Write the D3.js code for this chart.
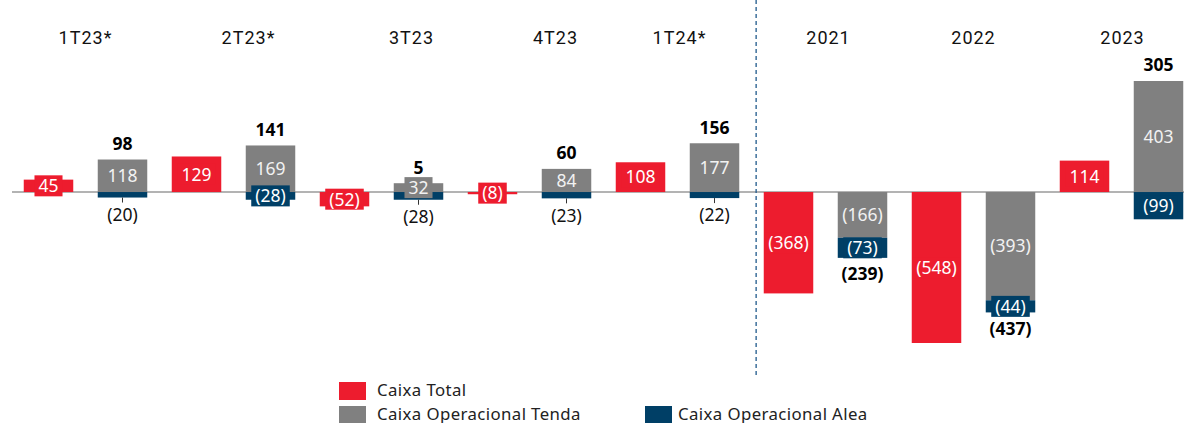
<!DOCTYPE html>
<html>
<head>
<meta charset="utf-8">
<script src="https://cdn.jsdelivr.net/npm/d3@7"></script>
<style>
  body { margin: 0; background: #fff; }
  svg { display: block; }
</style>
</head>
<body>
<svg id="chart"></svg>
<script>
// Datos del gráfico
const categorias = ["1T23*", "2T23*", "3T23", "4T23", "1T24*", "2021", "2022", "2023"];
const caixaTotal = [45, 129, -52, -8, 108, -368, -548, 114];
const caixaTenda = [118, 169, 32, 84, 177, -166, -393, 403];
const caixaAlea = [-20, -28, -28, -23, -22, -73, -44, -99];
const totalOperacional = [98, 141, 5, 60, 156, -239, -437, 305];
// etiquetas de Alea que van fuera de la barra (en negro)
const aleaFuera = ["1T23*", "3T23", "4T23", "1T24*"];

const series = [
    { nombre: "Caixa Total", color: "#ED1C2E" },
    { nombre: "Caixa Operacional Tenda", color: "#808080" },
    { nombre: "Caixa Operacional Alea", color: "#003F66" }
];

// desplazamiento de los títulos de columna (cajas de texto del original)
const desvioTitulo = [0, 15, 30, 26, 2, 3, 0, 1];

const W = 1184, H = 423;
const svg = d3.select("#chart").attr("width", W).attr("height", H);

const fontValor = "'Noto Sans', sans-serif";
const fontCat = "Roboto, sans-serif";

// Escalas
const x = d3.scaleBand().domain(categorias).range([11.5, 11.5 + 148 * 8]);
const xi = d3.scaleBand().domain(["total", "ops"]).range([0, 148])
    .paddingInner(0.331).paddingOuter(0.1655);
const y = d3.scaleLinear().domain([-548, 403]).range([343, 81]);
const bw = xi.bandwidth();

// Línea de cero
svg.append("line")
    .attr("x1", 12).attr("x2", W)
    .attr("y1", y(0)).attr("y2", y(0))
    .style("stroke", "#9a9a9a")
    .style("stroke-width", 1.5);

// Línea punteada separadora entre trimestres y años
const xSep = (x("1T24*") + x.bandwidth() + x("2021") + xi("total")) / 2 - 1.5;
svg.append("line")
    .attr("x1", xSep).attr("x2", xSep)
    .attr("y1", 0).attr("y2", 375)
    .style("stroke", "#1F5A8C")
    .style("stroke-width", 1.3)
    .style("stroke-dasharray", "4,3");

// Construir segmentos
const segmentos = [];
categorias.forEach((c, i) => {
    const t = caixaTotal[i];
    segmentos.push({ cat: c, x: x(c) + xi("total"), y0: 0, y1: t, color: series[0].color, valor: t, dentro: true });
    const te = caixaTenda[i];
    segmentos.push({ cat: c, x: x(c) + xi("ops"), y0: 0, y1: te, color: series[1].color, valor: te, dentro: true, texto: "#f2f2f2" });
    const a = caixaAlea[i];
    const base = (te < 0) ? te : 0;
    segmentos.push({ cat: c, x: x(c) + xi("ops"), y0: base, y1: base + a, color: series[2].color, valor: a, dentro: aleaFuera.indexOf(c) < 0 });
});

const fmt = v => v < 0 ? "(" + Math.abs(v) + ")" : String(v);

svg.selectAll("rect.barra")
    .data(segmentos)
    .enter()
    .append("rect")
    .attr("class", "barra")
    .attr("x", d => d.x)
    .attr("width", bw)
    .attr("y", d => Math.min(y(d.y0), y(d.y1)))
    .attr("height", d => Math.abs(y(d.y0) - y(d.y1)))
    .style("fill", d => d.color);

// Etiquetas dentro de las barras (con caja del mismo color)
const dentro = segmentos.filter(d => d.dentro);
const g = svg.selectAll("g.etq")
    .data(dentro)
    .enter()
    .append("g")
    .attr("class", "etq")
    .attr("transform", d => `translate(${d.x + bw / 2},${(y(d.y0) + y(d.y1)) / 2})`);

g.append("rect").attr("class", "caja").style("fill", d => d.color);
g.append("text")
    .attr("text-anchor", "middle")
    .attr("dy", "0.36em")
    .style("font-family", fontValor)
    .style("font-size", "17.5px")
    .style("fill", d => d.texto || "#fff")
    .text(d => fmt(d.valor));

g.each(function () {
    const t = d3.select(this).select("text").node().getBBox();
    d3.select(this).select("rect.caja")
        .attr("x", t.x - 4).attr("width", t.width + 8)
        .attr("y", -10.5).attr("height", 21);
});

// Etiquetas de Alea fuera de la barra
const fuera = segmentos.filter(d => !d.dentro);
svg.selectAll("line.guia")
    .data(fuera)
    .enter()
    .append("line")
    .attr("class", "guia")
    .attr("x1", d => d.x + bw / 2).attr("x2", d => d.x + bw / 2)
    .attr("y1", d => y(d.y1)).attr("y2", d => y(d.y1) + 5)
    .style("stroke", "#333")
    .style("stroke-width", 1);

svg.selectAll("text.fuera")
    .data(fuera)
    .enter()
    .append("text")
    .attr("class", "fuera")
    .attr("x", d => d.x + bw / 2)
    .attr("y", d => y(d.y1) + 17)
    .attr("dy", "0.36em")
    .attr("text-anchor", "middle")
    .style("font-family", fontValor)
    .style("font-size", "17.5px")
    .style("fill", "#111")
    .text(d => fmt(d.valor));

// Totales en negrita
svg.selectAll("text.total")
    .data(categorias)
    .enter()
    .append("text")
    .attr("class", "total")
    .attr("x", c => x(c) + xi("ops") + bw / 2)
    .attr("y", (c, i) => {
        const te = caixaTenda[i], a = caixaAlea[i];
        if (totalOperacional[i] >= 0) return y(Math.max(te, 0)) - 16;
        return y(Math.min(te, 0) + a) + 16;
    })
    .attr("dy", "0.36em")
    .attr("text-anchor", "middle")
    .style("font-family", fontValor)
    .style("font-size", "17.5px")
    .style("font-weight", "bold")
    .style("fill", "#000")
    .text((c, i) => fmt(totalOperacional[i]));

// Etiquetas de categorías arriba
svg.selectAll("text.cat")
    .data(categorias)
    .enter()
    .append("text")
    .attr("class", "cat")
    .attr("x", (c, i) => x(c) + x.bandwidth() / 2 + desvioTitulo[i])
    .attr("y", 44)
    .attr("text-anchor", "middle")
    .style("font-family", fontCat)
    .style("font-size", "18px")
    .style("letter-spacing", "1px")
    .style("fill", "#111")
    .text(c => c);

// Leyenda
const leyenda = [
    { s: series[0], x: 339, y: 382 },
    { s: series[1], x: 339, y: 406 },
    { s: series[2], x: 645, y: 406 }
];
const lg = svg.selectAll("g.ley")
    .data(leyenda)
    .enter()
    .append("g")
    .attr("class", "ley")
    .attr("transform", d => `translate(${d.x},${d.y})`);
lg.append("rect")
    .attr("width", 27).attr("height", 18)
    .style("fill", d => d.s.color);
lg.append("text")
    .attr("x", d => d.s === series[2] ? 33 : 38)
    .attr("y", 14)
    .style("font-family", fontValor)
    .style("font-size", "16.8px")
    .style("letter-spacing", "0.4px")
    .style("fill", "#222")
    .text(d => d.s.nombre);
</script>
</body>
</html>
